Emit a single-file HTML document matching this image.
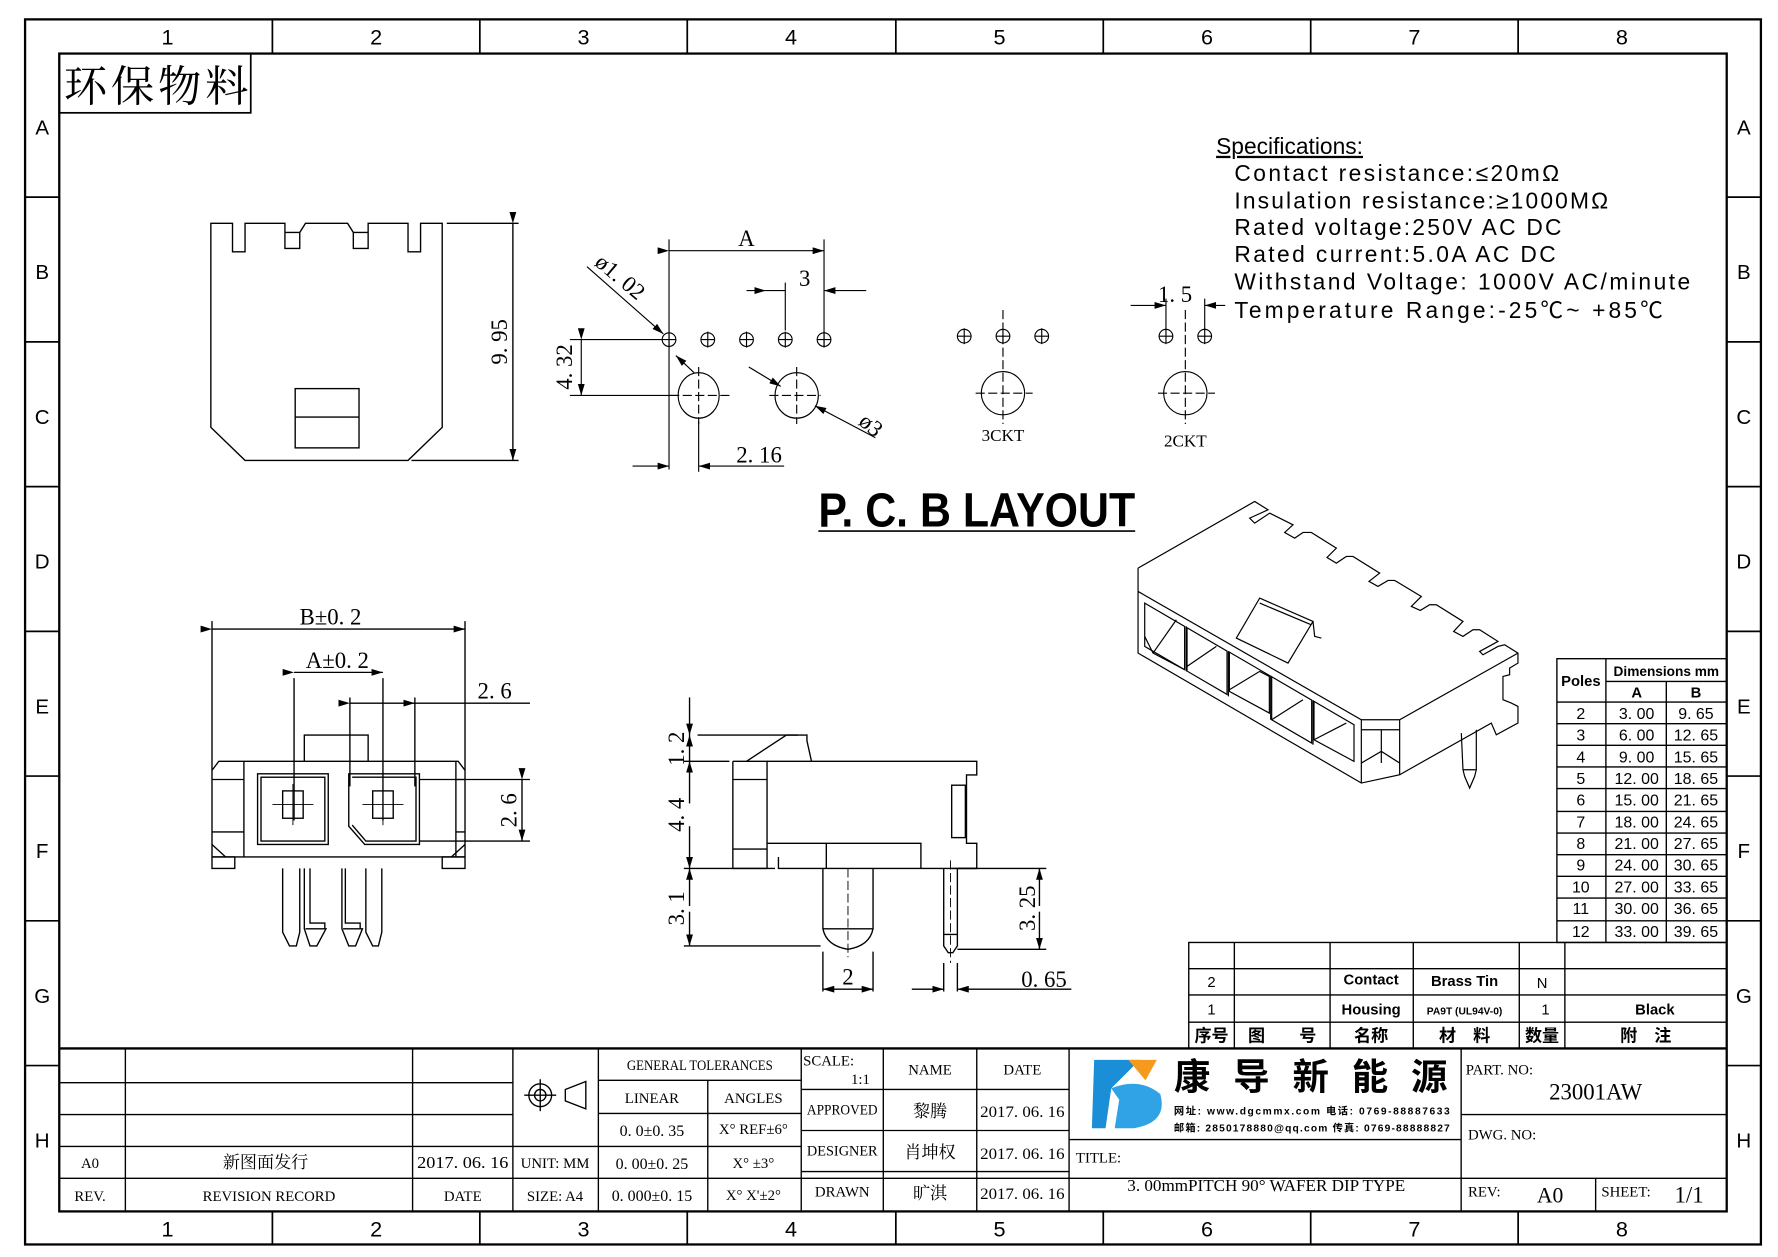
<!DOCTYPE html>
<html><head><meta charset="utf-8"><style>
html,body{margin:0;padding:0;background:#fff;}
svg{display:block}
text{font-family:"Liberation Sans Narrow","Liberation Sans","Noto Sans CJK SC",sans-serif;fill:#000}
.s text, text.s{font-family:"Liberation Serif","Noto Serif CJK SC",serif}
.c text, text.c{font-family:"Liberation Sans","Noto Sans CJK SC",sans-serif}
.n{vector-effect:non-scaling-stroke}
</style></head><body>
<svg width="1778" height="1257" viewBox="0 0 1560 1103" preserveAspectRatio="none" xmlns="http://www.w3.org/2000/svg">
<defs>
<marker id="ar" markerWidth="10" markerHeight="6" refX="10" refY="3" orient="auto" markerUnits="userSpaceOnUse"><path d="M0,0 L10,3 L0,6z" fill="#000"/></marker>
</defs>
<g fill="none" stroke="#000">
<rect x="22" y="17" width="1523" height="1075" stroke-width="2"/>
<rect x="52" y="47" width="1463" height="1016" stroke-width="2"/>
<g stroke-width="1.5">
<path d="M239 17V47M421 17V47M603 17V47M786 17V47M968 17V47M1150 17V47M1332 17V47"/>
<path d="M239 1063V1092M421 1063V1092M603 1063V1092M786 1063V1092M968 1063V1092M1150 1063V1092M1332 1063V1092"/>
<path d="M22 173H52M22 300H52M22 427H52M22 554H52M22 681H52M22 808H52M22 935H52"/>
<path d="M1515 173H1545M1515 300H1545M1515 427H1545M1515 554H1545M1515 681H1545M1515 808H1545M1515 935H1545"/>
</g>
<rect x="52" y="47" width="168" height="52" stroke-width="1.5"/>
<g stroke-width="1.2">
<path d="M52 920H1515" stroke-width="2"/>
<path d="M52 950H450M52 978H450M52 1006H450M52 1034H1282M52 1063H1282"/>
<path d="M110 920V1063M362 920V1063M450 920V1063M525 920V1063M703 920V1063"/>
<path d="M450 1006H525M525 948H703M525 977H703M525 1006H703M621 948V1063"/>
<path d="M703 956H938M703 992H938M703 1028H938M775 920V1063M857 920V1063M938 920V1063"/>
<path d="M938 1000H1282M1282 920V1063M1282 978H1515M1282 1034H1515M1400 1034V1063"/>
</g>
<g stroke-width="1.2">
<rect x="1043" y="827" width="472" height="93"/>
<path d="M1043 850H1515M1043 873H1515M1043 897H1515"/>
<path d="M1083 827V920M1167 827V920M1240 827V920M1333 827V920M1373 827V920"/>
<rect x="1366" y="578" width="149" height="249"/>
<path d="M1409 578V827M1409 598H1515M1366 616H1515M1462 598V827"/>
<path d="M1366 635H1515M1366 654H1515M1366 673H1515M1366 692H1515M1366 712H1515M1366 731H1515M1366 750H1515M1366 769H1515M1366 788H1515M1366 808H1515"/>
</g>
<g stroke-width="1.2">
<path d="M185 375V196H204V221H215V196H250V218H263V204L268 196H305L310 204V218H323V196H358V221H369V196H388V375L358 404H215L185 375Z"/>
<path d="M250 204H263M310 204H323"/>
<rect x="259" y="341" width="56" height="52"/><path d="M259 366H315"/>
<path d="M392 196H455M361 404H455"/>
<path d="M450 196V404" marker-start="url(#ar)" marker-end="url(#ar)"/>
</g>
<g stroke-width="1">
<g id="h"><circle cx="587" cy="298" r="6"/><path d="M581 298H593M587 291V305"/></g>
<use href="#h" x="34"/><use href="#h" x="68"/><use href="#h" x="102"/><use href="#h" x="136"/>
<use href="#h" x="259" y="-3"/><use href="#h" x="293" y="-3"/><use href="#h" x="327" y="-3"/>
<use href="#h" x="436" y="-3"/><use href="#h" x="470" y="-3"/>
<ellipse cx="613" cy="347" rx="18" ry="20"/><path d="M613 322V372M588 347H640" stroke-dasharray="8 3"/>
<ellipse cx="699" cy="347" rx="19" ry="20"/><path d="M699 322V372M675 347H720" stroke-dasharray="8 3"/>
<circle cx="880" cy="345" r="19"/><path d="M880 272V372M856 345H906" stroke-dasharray="8 3"/>
<circle cx="1040" cy="345" r="19"/><path d="M1040 272V372M1016 345H1066" stroke-dasharray="8 3"/>
<path d="M587 210V412M723 210V304M689 248V290M613 370V414M500 298H581M500 347H595"/>
<path d="M587 220H723" marker-start="url(#ar)" marker-end="url(#ar)"/>
<path d="M655 255H672" marker-end="url(#ar)"/><path d="M760 255H723" marker-end="url(#ar)"/><path d="M672 255H689"/>
<path d="M510 298V347" marker-start="url(#ar)" marker-end="url(#ar)"/>
<path d="M555 409H587" marker-end="url(#ar)"/><path d="M688 409H613" marker-end="url(#ar)"/>
<path d="M515 234L582 293" marker-end="url(#ar)"/><path d="M609 327L593 312" marker-end="url(#ar)"/>
<path d="M657 322L685 339" marker-end="url(#ar)"/><path d="M768 384L715 356" marker-end="url(#ar)"/>
<path d="M992 268H1023" marker-end="url(#ar)"/><path d="M1075 268H1057" marker-end="url(#ar)"/>
<path d="M1023 262V290M1057 262V290"/>
</g>
<path d="M718 466H996" stroke-width="1.5"/>
<g stroke-width="1.2">
<path d="M186 676L192 668H402L408 676V752H388V762H408V752M186 676V752H206V762H186V752"/>
<path d="M214 668V752M400 668V752M186 752H408M186 741L198 752M408 741L396 752M186 684H214M186 730H214M400 684H408M400 730H408"/>
<rect x="226" y="679" width="62" height="62"/><rect x="229" y="682" width="56" height="56"/>
<path d="M306 679H368V741H320L306 725Z"/><path d="M309 682H365V738H321L309 724"/>
<path d="M267 668V645H323V668"/>
<path d="M258 595V720M336 595V720M186 545V676M408 545V676M307 612V690M364 612V690"/>
<path d="M186 552H408" marker-start="url(#ar)" marker-end="url(#ar)"/>
<path d="M258 590H336" marker-start="url(#ar)" marker-end="url(#ar)"/>
<path d="M307 617H364" marker-start="url(#ar)" marker-end="url(#ar)"/><path d="M364 617H465"/>
<path d="M368 684H465M368 738H465"/>
<path d="M458 684V738" marker-start="url(#ar)" marker-end="url(#ar)"/>
<path d="M248 762V818L254 830H260L263 818V762M321 762V818L327 830H332L335 818V762"/>
<path d="M267 762V815L272 830H278L286 815H268M300 762V815L306 830H312L318 815H301"/>
<path d="M272 762V810H285V815M303 762V810H316V815"/>
<rect x="248" y="694" width="18" height="24"/><rect x="327" y="694" width="18" height="24"/>
<path d="M257 688V724M239 706H275M336 688V724M318 706H354" stroke-width="0.8"/>
</g>
<g stroke-width="1.2">
<path d="M643 668V762H673M673 668H857V680H848V740H857V762H835"/>
<path d="M643 668H673V762M643 684H673M643 745H673"/>
<path d="M673 740H808V762H683V752M725 740V762M808 762H857"/>
<rect x="835" y="689" width="12" height="46"/>
<path d="M655 668L690 645H708V650L712 668" />
<path d="M722 762V815Q725 830 744 833Q763 830 766 815V762M722 815H766"/>
<path d="M828 762V830L832 836H836L840 830V762M828 820H840"/>
<path d="M744 762V840M834 755V845" stroke-dasharray="8 3" stroke-width="0.8"/>
<path d="M612 645H700M600 668H640M600 762H680M600 830H720M840 762H918M840 833H918M722 835V870M766 835V870M828 845V870M840 845V870"/>
<path d="M605 612V645" marker-end="url(#ar)"/><path d="M605 668V645" marker-end="url(#ar)"/>
<path d="M605 705V668" marker-end="url(#ar)"/><path d="M605 725V762" marker-end="url(#ar)"/>
<path d="M605 795V762" marker-end="url(#ar)"/><path d="M605 800V830" marker-end="url(#ar)"/>
<path d="M912 795V762" marker-end="url(#ar)"/><path d="M912 800V833" marker-end="url(#ar)"/>
<path d="M744 868H722" marker-end="url(#ar)"/><path d="M744 868H766" marker-end="url(#ar)"/>
<path d="M800 868H828" marker-end="url(#ar)"/><path d="M940 868H840" marker-end="url(#ar)"/>
</g>
<!-- 3D in zoom-pixel coords -->
<g transform="translate(991.2 429.8) scale(0.2924)" stroke-width="1.2">
<path class="n" d="M25,235 L375,35 L415,60 L360,85 L375,100 L420,70 L490,105 L465,128 L495,145 L520,128 L545,128 L620,175 L592,203 L620,220 L650,200 L670,200 L750,250 L718,275 L745,290 L775,272 L795,272 L875,320 L845,350 L872,362 L900,345 L920,345 L1000,395 L972,425 L1000,440 L1030,420 L1050,420 L1105,455 L1050,485 L1060,495 L1105,470 L1125,465 L1165,490 L1165,520 L1140,535 L1140,555 L1120,560 L1120,630 L1145,640 L1165,650 L1165,700 L1100,735 L1085,700 L810,855"/>
<path class="n" d="M1165,490 L810,690 L695,690 L25,305 M25,235 V490 L695,880 L810,855 V690 M695,690 V880"/>
<path class="n" d="M45,340 L165,410 L165,540 L45,470Z M172,414 L292,484 L292,614 L172,544Z M299,487 L419,557 L419,670 L299,605Z M426,561 L546,631 L546,760 L426,690Z M553,635 L673,705 L673,815 L553,750Z"/>
<path class="n" d="M45,440 L70,490 L165,540 M70,490 L140,390 M172,530 L260,470 M299,600 L390,545 L419,560 M426,690 L520,630 M553,750 L650,700 M165,410 V540 M170,410V545 M296,484V620 M423,557V690 M550,631V765"/>
<path class="n" d="M320,445 L390,325 L550,395 L475,520 Z M390,340 L545,405 M550,395 L555,440 L575,445"/>
<path class="n" d="M695,720 H810 M755,720 V820 M695,820 L755,785 L810,820"/>
<path class="n" d="M995,730 L1000,840 L1005,860 L1020,895 L1035,860 L1040,840 L1040,720 M1000,840 H1040"/>
</g>
</g>
<g text-anchor="middle" font-size="19">
<text x="147" y="39">1</text><text x="330" y="39">2</text><text x="512" y="39">3</text><text x="694" y="39">4</text><text x="877" y="39">5</text><text x="1059" y="39">6</text><text x="1241" y="39">7</text><text x="1423" y="39">8</text>
<text x="147" y="1085">1</text><text x="330" y="1085">2</text><text x="512" y="1085">3</text><text x="694" y="1085">4</text><text x="877" y="1085">5</text><text x="1059" y="1085">6</text><text x="1241" y="1085">7</text><text x="1423" y="1085">8</text>
<g font-size="18"><text x="37" y="118">A</text><text x="37" y="245">B</text><text x="37" y="372">C</text><text x="37" y="499">D</text><text x="37" y="626">E</text><text x="37" y="753">F</text><text x="37" y="880">G</text><text x="37" y="1007">H</text>
<text x="1530" y="118">A</text><text x="1530" y="245">B</text><text x="1530" y="372">C</text><text x="1530" y="499">D</text><text x="1530" y="626">E</text><text x="1530" y="753">F</text><text x="1530" y="880">G</text><text x="1530" y="1007">H</text></g>
</g>
<text x="56" y="89" class="s" font-size="38" textLength="162">环保物料</text>
<g class="c" font-size="20" fill="#444">
<text x="1067" y="135" text-decoration="underline" fill="#444">Specifications:</text>
<text x="1083" y="159" textLength="285" fill="#444">Contact  resistance:≤20mΩ</text>
<text x="1083" y="183" textLength="328" fill="#444">Insulation  resistance:≥1000MΩ</text>
<text x="1083" y="206" textLength="287" fill="#444">Rated  voltage:250V  AC  DC</text>
<text x="1083" y="230" textLength="282" fill="#444">Rated  current:5.0A  AC  DC</text>
<text x="1083" y="254" textLength="400" fill="#444">Withstand  Voltage: 1000V  AC/minute</text>
<text x="1083" y="279" textLength="376" fill="#444">Temperature  Range:-25℃~  +85℃</text>
</g>
<text x="718" y="462" font-size="42" font-weight="bold" textLength="278" lengthAdjust="spacingAndGlyphs">P. C. B  LAYOUT</text>
<g class="s" font-size="20" text-anchor="middle">
<text x="655" y="216">A</text><text x="706" y="251">3</text><text x="666" y="406">2. 16</text>
<text x="1031" y="265">1. 5</text>
<text x="880" y="387" font-size="15">3CKT</text><text x="1040" y="392" font-size="15">2CKT</text>
<text transform="translate(445 300) rotate(-90)">9. 95</text>
<text transform="translate(502 322) rotate(-90)">4. 32</text>
<text transform="translate(540 248) rotate(40)">ø1. 02</text>
<text transform="translate(760 378) rotate(40)">ø3</text>
<text x="290" y="548">B±0. 2</text><text x="296" y="586">A±0. 2</text><text x="434" y="613">2. 6</text>
<text transform="translate(453 711) rotate(-90)">2. 6</text>
<text transform="translate(600 657) rotate(-90)">1. 2</text>
<text transform="translate(600 715) rotate(-90)">4. 4</text>
<text transform="translate(600 797) rotate(-90)">3. 1</text>
<text transform="translate(908 797) rotate(-90)">3. 25</text>
<text x="744" y="864">2</text><text x="916" y="866">0. 65</text>
</g>
<g font-size="13" text-anchor="middle" font-weight="bold">
<text x="1387" y="602">Poles</text><text x="1462" y="593" font-size="12">Dimensions mm</text>
<text x="1436" y="612">A</text><text x="1488" y="612">B</text>
<g font-weight="normal" font-size="14">
<text x="1387" y="631">2</text><text x="1436" y="631">3. 00</text><text x="1488" y="631">9. 65</text>
<text x="1387" y="650">3</text><text x="1436" y="650">6. 00</text><text x="1488" y="650">12. 65</text>
<text x="1387" y="669">4</text><text x="1436" y="669">9. 00</text><text x="1488" y="669">15. 65</text>
<text x="1387" y="688">5</text><text x="1436" y="688">12. 00</text><text x="1488" y="688">18. 65</text>
<text x="1387" y="707">6</text><text x="1436" y="707">15. 00</text><text x="1488" y="707">21. 65</text>
<text x="1387" y="726">7</text><text x="1436" y="726">18. 00</text><text x="1488" y="726">24. 65</text>
<text x="1387" y="745">8</text><text x="1436" y="745">21. 00</text><text x="1488" y="745">27. 65</text>
<text x="1387" y="764">9</text><text x="1436" y="764">24. 00</text><text x="1488" y="764">30. 65</text>
<text x="1387" y="783">10</text><text x="1436" y="783">27. 00</text><text x="1488" y="783">33. 65</text>
<text x="1387" y="802">11</text><text x="1436" y="802">30. 00</text><text x="1488" y="802">36. 65</text>
<text x="1387" y="822">12</text><text x="1436" y="822">33. 00</text><text x="1488" y="822">39. 65</text>
</g>
<g font-size="13">
<text x="1063" y="866" font-weight="normal">2</text><text x="1203" y="864">Contact</text><text x="1285" y="865">Brass Tin</text><text x="1353" y="867" font-weight="normal">N</text>
<text x="1063" y="890" font-weight="normal">1</text><text x="1203" y="890">Housing</text><text x="1285" y="890" font-size="9">PA9T (UL94V-0)</text><text x="1356" y="890" font-weight="normal">1</text><text x="1452" y="890">Black</text>
<text x="1063" y="914" class="c" font-size="15">序号</text><text x="1125" y="914" class="c" font-size="15">图　　号</text><text x="1203" y="914" class="c" font-size="15">名称</text><text x="1285" y="914" class="c" font-size="15">材　料</text><text x="1353" y="914" class="c" font-size="15">数量</text><text x="1444" y="914" class="c" font-size="15">附　注</text>
</g>
</g>
<g class="s" font-size="13" text-anchor="middle">
<text x="614" y="939" textLength="128" lengthAdjust="spacingAndGlyphs">GENERAL  TOLERANCES</text>
<text x="572" y="968">LINEAR</text><text x="661" y="968">ANGLES</text>
<text x="572" y="997" font-size="14">0. 0±0. 35</text><text x="661" y="995">X° REF±6°</text>
<text x="572" y="1026" font-size="14">0. 00±0. 25</text><text x="661" y="1025">X° ±3°</text>
<text x="572" y="1054" font-size="14">0. 000±0. 15</text><text x="661" y="1053">X° X'±2°</text>
<text x="487" y="1025">UNIT: MM</text><text x="487" y="1054">SIZE: A4</text>
<text x="727" y="935">SCALE:</text><text x="755" y="951">1:1</text>
<text x="816" y="943">NAME</text><text x="897" y="943">DATE</text>
<text x="739" y="978" textLength="62" lengthAdjust="spacingAndGlyphs">APPROVED</text><text x="739" y="1014" textLength="62" lengthAdjust="spacingAndGlyphs">DESIGNER</text><text x="739" y="1050">DRAWN</text>
<text x="816" y="980" font-size="15">黎腾</text><text x="816" y="1016" font-size="15">肖坤权</text><text x="816" y="1052" font-size="15">旷淇</text>
<text x="897" y="980" font-size="14" textLength="74" lengthAdjust="spacingAndGlyphs">2017. 06. 16</text><text x="897" y="1017" font-size="14" textLength="74" lengthAdjust="spacingAndGlyphs">2017. 06. 16</text><text x="897" y="1052" font-size="14" textLength="74" lengthAdjust="spacingAndGlyphs">2017. 06. 16</text>
<text x="79" y="1025">A0</text><text x="233" y="1025" font-size="15">新图面发行</text><text x="406" y="1025" font-size="15" textLength="80" lengthAdjust="spacingAndGlyphs">2017. 06. 16</text>
<text x="79" y="1054">REV.</text><text x="236" y="1054">REVISION RECORD</text><text x="406" y="1054">DATE</text>
<text x="1111" y="1045" font-size="15">3. 00mmPITCH 90°  WAFER DIP TYPE</text>
<text x="1400" y="965" font-size="20">23001AW</text>
<text x="1360" y="1055" font-size="19">A0</text><text x="1482" y="1055" font-size="20">1/1</text>
</g>
<g class="s" font-size="13">
<text x="944" y="1020">TITLE:</text><text x="1286" y="943">PART. NO:</text><text x="1288" y="1000">DWG. NO:</text>
<text x="1288" y="1050">REV:</text><text x="1405" y="1050">SHEET:</text>
</g>
<path d="M960 930H1000Q985 945 975 955L970 990H958Z" fill="#1a8fd8"/>
<path d="M975 955Q1000 945 1018 960Q1025 985 995 990H978L982 965Z" fill="#2fa3e6"/>
<path d="M990 930H1015L1005 948Z" fill="#f59a1c"/>
<text x="1030" y="956" class="c" font-size="32" font-weight="bold" textLength="240">康导新能源</text>
<text x="1030" y="978" class="c" font-size="9" font-weight="bold" textLength="242">网址: www.dgcmmx.com  电话: 0769-88887633</text>
<text x="1030" y="993" class="c" font-size="9" font-weight="bold" textLength="242">邮箱: 2850178880@qq.com 传真: 0769-88888827</text>
<g stroke="#000" fill="none" stroke-width="1.2"><circle cx="474" cy="961" r="10"/><circle cx="474" cy="961" r="5"/><path d="M460 961H488M474 947V975M496 956L514 949V973L496 966ZM496 956V966"/></g>
</svg>
</body></html>
